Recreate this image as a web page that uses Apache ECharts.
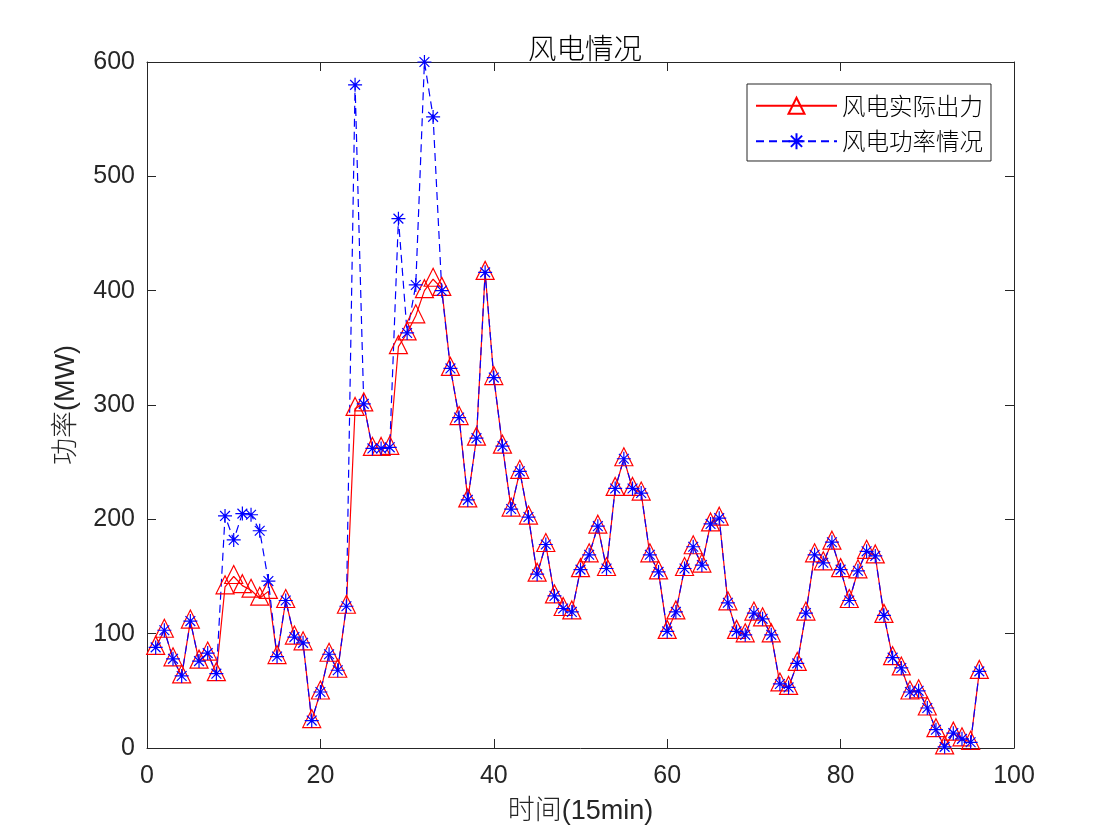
<!DOCTYPE html>
<html>
<head>
<meta charset="utf-8">
<script src="https://cdn.jsdelivr.net/npm/echarts@6/dist/echarts.min.js"></script>
<style>html,body{margin:0;padding:0;background:#fff;}#c{width:1120px;height:840px;}</style>
</head>
<body>
<div id="c"></div>
<script>
var timeSteps = [];
for (var i = 1; i <= 96; i++) timeSteps.push(i);

var actualOutput = [88,103,78,63,111,76,83,65,141,150,142,138,131,137,80,129,97,92,24,49,82,68,124,297,301,262,262,263,351,363,378,400,410,402,332,289,217,271,416,324,264,209,242,202,152,178,133,122,119,156,169,194,157,227,253,227,223,169,154,102,119,157,176,160,196,201,127,102,99,118,113,99,56,53,74,118,169,162,180,156,129,155,172,168,116,79,70,49,50,35,16,1,13,8,5,67];

var powerForecast = [88,103,78,63,111,76,83,65,203,182,205,204,190,146,80,129,97,92,24,49,82,68,124,580,301,262,262,263,463,363,405,600,552,400,332,289,217,271,416,324,264,209,242,202,152,178,133,122,119,156,169,194,157,227,253,227,223,169,154,102,119,157,176,160,196,201,127,102,99,118,113,99,56,53,74,118,169,162,180,156,129,155,172,168,116,79,70,49,50,35,16,1,13,8,5,67];

var xTicks = [0,20,40,60,80,100];
var yTicks = [0,100,200,300,400,500,600];

var seriesNames = ['风电实际出力','风电功率情况'];
var titleText = '风电情况';
var xName = '时间(15min)';
var yName = '功率(MW)';

function pairs(vals){ return timeSteps.map(function(t,k){ return [t, vals[k]]; }); }

var numFont = 'Liberation Sans, Arial, Helvetica, sans-serif';
var mixFont = 'Liberation Sans, Noto Sans CJK SC, sans-serif';
var cjkFont = 'Noto Sans CJK SC, sans-serif';
var axisCol = '#262626';

var chart = echarts.init(document.getElementById('c'));
var starPath = 'path://M10,0L10,20M0,10L20,10M3,3L17,17M3,17L17,3';

var baseX = {
  type: 'value', min: xTicks[0], max: xTicks[xTicks.length-1], interval: 20,
  axisLine: {show: true, onZero: false, lineStyle: {color: axisCol, width: 1}},
  axisTick: {show: true, inside: true, length: 9, lineStyle: {color: axisCol}},
  splitLine: {show: false}
};
var baseY = {
  type: 'value', min: yTicks[0], max: yTicks[yTicks.length-1], interval: 100,
  axisLine: {show: true, onZero: false, lineStyle: {color: axisCol, width: 1}},
  axisTick: {show: true, inside: true, length: 9, lineStyle: {color: axisCol}},
  splitLine: {show: false}
};

chart.setOption({
  animation: false,
  backgroundColor: '#fff',
  title: {
    text: titleText, left: 580, top: 29, textAlign: 'center',
    textStyle: {fontFamily: cjkFont, fontSize: 28.5, fontWeight: 300, color: '#000'}
  },
  grid: {left: 147, right: 106, top: 62, bottom: 92},
  legend: {
    left: 747, top: 84, orient: 'vertical',
    itemWidth: 81, itemHeight: 20, itemGap: 12,
    padding: [10, 8, 8, 8],
    borderColor: axisCol, borderWidth: 1, backgroundColor: '#fff',
    textStyle: {fontFamily: cjkFont, fontSize: 23.5, fontWeight: 300, color: '#000', padding: [0,0,0,0]},
    data: seriesNames
  },
  xAxis: [
    Object.assign({}, baseX, {
      position: 'bottom',
      name: xName, nameLocation: 'middle', nameGap: 50,
      nameTextStyle: {fontFamily: mixFont, fontSize: 27, fontWeight: 300, color: axisCol},
      axisLabel: {show: true, margin: 16, fontFamily: numFont, fontSize: 25, color: axisCol}
    }),
    Object.assign({}, baseX, {position: 'top', axisLabel: {show: false}})
  ],
  yAxis: [
    Object.assign({}, baseY, {
      position: 'left',
      name: yName, nameLocation: 'middle', nameGap: 67, nameRotate: 90,
      nameTextStyle: {fontFamily: mixFont, fontSize: 27, fontWeight: 300, color: axisCol},
      axisLabel: {show: true, margin: 12, fontFamily: numFont, fontSize: 25, color: axisCol}
    }),
    Object.assign({}, baseY, {position: 'right', axisLabel: {show: false}})
  ],
  series: [
    {
      name: seriesNames[0], type: 'line', xAxisIndex: 0, yAxisIndex: 0,
      data: pairs(actualOutput),
      symbol: 'triangle', symbolSize: 18, symbolOffset: [0, -2], showAllSymbol: true,
      lineStyle: {color: '#ff0000', width: 1.2, type: 'solid'},
      itemStyle: {color: 'rgba(255,255,255,0)', borderColor: '#ff0000', borderWidth: 1.2}
    },
    {
      name: seriesNames[1], type: 'line', xAxisIndex: 0, yAxisIndex: 0,
      data: pairs(powerForecast),
      symbol: starPath, symbolSize: 14, showAllSymbol: true,
      lineStyle: {color: '#0000ff', width: 1.2, type: [8, 5]},
      itemStyle: {color: 'rgba(255,255,255,0)', borderColor: '#0000ff', borderWidth: 1.2}
    }
  ]
});
</script>
</body>
</html>
